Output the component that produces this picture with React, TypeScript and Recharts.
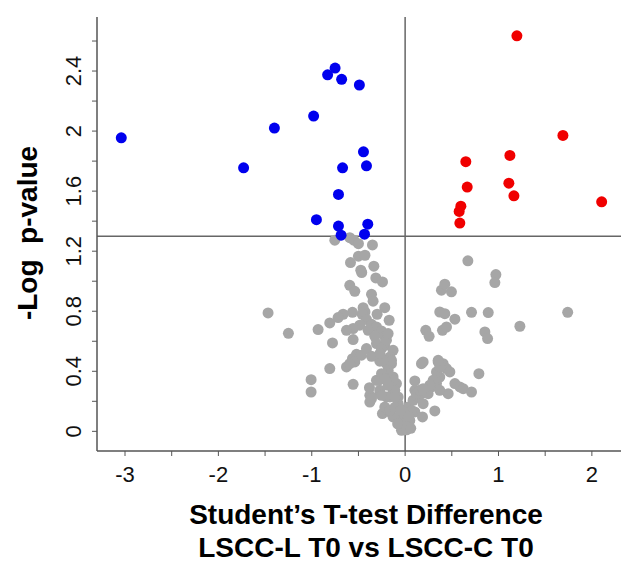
import { ReferenceLine, Scatter, ScatterChart, XAxis, YAxis } from "recharts"

// [difference, -log p]
const downRegulated: [number, number][] = [
  [-3.04, 1.955], [-1.73, 1.755], [-1.4, 2.02], [-0.98, 2.1], [-0.95, 1.41],
  [-0.75, 2.42], [-0.83, 2.375], [-0.68, 2.345], [-0.49, 2.307], [-0.446, 1.862],
  [-0.414, 1.769], [-0.67, 1.755], [-0.714, 1.578], [-0.714, 1.367], [-0.4, 1.38],
  [-0.686, 1.307], [-0.435, 1.313],
]

const upRegulated: [number, number][] = [
  [1.197, 2.635], [1.69, 1.971], [1.122, 1.838], [0.65, 1.796], [0.665, 1.627],
  [1.111, 1.653], [1.165, 1.569], [2.105, 1.529], [0.597, 1.5], [0.579, 1.465],
  [0.586, 1.387],
]

const notSignificant: [number, number][] = [
  [-0.753, 1.273], [-0.593, 1.29], [-0.55, 1.273], [-0.5, 1.25], [-0.35, 1.242],
  [-0.5, 1.167], [-0.43, 1.173], [-0.585, 1.124], [-0.335, 1.1], [-0.475, 1.073],
  [-0.465, 1.058], [-0.314, 1.022], [-0.242, 0.995], [-0.593, 0.973], [-0.539, 0.933],
  [-0.36, 0.913], [-0.343, 0.867], [-0.218, 0.824], [-0.45, 0.824], [-0.43, 0.795],
  [-0.46, 0.78], [-0.564, 0.793], [-0.664, 0.78], [-0.718, 0.758], [-0.807, 0.722],
  [-0.932, 0.678], [-0.3, 0.78], [-0.171, 0.74], [-0.414, 0.745], [-0.36, 0.713],
  [-0.307, 0.695], [-0.486, 0.707], [-0.557, 0.685], [-0.628, 0.673], [-0.396, 0.673],
  [-0.254, 0.669], [-0.218, 0.629], [-0.325, 0.633], [-0.778, 0.589], [-0.557, 0.611],
  [-0.307, 0.585], [-0.218, 0.573], [-0.254, 0.551], [-0.129, 0.54], [-0.164, 0.495],
  [-0.271, 0.467], [-0.146, 0.451], [-0.414, 0.551], [-0.36, 0.5], [-0.521, 0.513],
  [-0.564, 0.484], [-0.539, 0.462], [-0.628, 0.429], [-0.807, 0.418], [-1.007, 0.344],
  [-1.007, 0.262], [-0.557, 0.313], [-0.382, 0.291], [-0.182, 0.407], [-0.129, 0.362],
  [-0.093, 0.318], [-0.164, 0.318], [-0.236, 0.351], [-0.289, 0.34], [-0.378, 0.24],
  [-0.378, 0.195], [-0.271, 0.251], [-0.2, 0.229], [-0.129, 0.262], [-0.075, 0.229],
  [-0.243, 0.118], [-0.164, 0.129], [-0.093, 0.162], [-0.057, 0.096], [-0.021, 0.051],
  [-0.039, 0.007], [0.014, 0.029], [0.05, 0.073], [0.104, 0.129], [0.032, 0.162],
  [0.086, 0.207], [0.139, 0.229], [0.104, 0.273], [0.175, 0.251], [0.193, 0.184],
  [0.186, 0.096], [0.318, 0.136], [0.104, 0.336], [0.229, 0.273], [0.282, 0.296],
  [0.336, 0.318], [0.371, 0.362], [0.336, 0.396], [0.354, 0.462], [0.407, 0.451],
  [0.443, 0.418], [0.479, 0.396], [0.461, 0.251], [0.193, 0.462], [0.175, 0.451],
  [0.533, 0.318], [0.586, 0.296], [0.622, 0.284], [0.711, 0.262], [0.79, 0.384],
  [0.221, 0.673], [0.257, 0.633], [0.4, 0.673], [0.443, 0.695], [0.371, 0.795],
  [0.425, 0.784], [0.533, 0.747], [0.389, 0.94], [0.425, 0.98], [0.496, 0.929],
  [0.672, 1.136], [0.972, 1.044], [0.961, 0.991], [0.711, 0.793], [0.89, 0.791],
  [0.854, 0.662], [0.883, 0.618], [1.229, 0.7], [1.741, 0.793], [-1.468, 0.789],
  [-1.25, 0.653], [-0.218, 0.162], [-0.164, 0.229], [-0.111, 0.273], [-0.129, 0.34],
  [-0.129, 0.096], [-0.164, 0.14], [-0.075, 0.184], [-0.111, 0.229], [-0.271, 0.273],
  [-0.307, 0.34], [-0.36, 0.218], [-0.253, 0.384], [-0.2, 0.451], [-0.146, 0.473],
  [-0.236, 0.473], [-0.271, 0.518], [-0.2, 0.607], [-0.182, 0.651], [-0.468, 0.507],
  [-0.593, 0.451], [-0.253, 0.24], [-0.182, 0.307], [-0.218, 0.351], [0.015, 0.01],
  [0.068, 0.14], [0.122, 0.251], [0.157, 0.273], [0.3, 0.34], [0.371, 0.429],
  [0.354, 0.473], [0.246, 0.251], [0.371, 0.273], [0.264, 0.307], [0.193, 0.284],
  [-0.02, 0.12], [0.0, 0.06], [-0.08, 0.05], [0.06, 0.02], [-0.11, 0.16],
  [0.03, 0.1], [-0.05, 0.14],
]

const xTicks = [-3, -2.5, -2, -1.5, -1, -0.5, 0, 0.5, 1, 1.5, 2]
const yTicks = [0, 0.2, 0.4, 0.6, 0.8, 1, 1.2, 1.4, 1.6, 1.8, 2, 2.2, 2.4, 2.6]

const FONT = "'Liberation Sans', Arial, sans-serif"
const AXIS = "#555"

const toPoints = (arr: [number, number][]) => arr.map(([x, y]) => ({ x, y }))

const dot = (fill: string) => (props: any) =>
  <circle cx={props.cx} cy={props.cy} r={5.5} fill={fill} />

function XTick({ x, y, payload }: any) {
  const v = payload.value as number
  if (!Number.isInteger(v)) return null
  return (
    <text x={x} y={y + 16} textAnchor="middle" dominantBaseline="central"
      fontFamily={FONT} fontSize={22} fill="#111">
      {String(v)}
    </text>
  )
}

function YTick({ x, y, payload }: any) {
  const v = payload.value as number
  if (Math.round(v * 10) % 4 !== 0) return null
  return (
    <text transform={`translate(${x - 17}, ${y}) rotate(-90)`} textAnchor="middle"
      dominantBaseline="central" fontFamily={FONT} fontSize={22} fill="#111">
      {String(Math.round(v * 10) / 10)}
    </text>
  )
}

export default function App() {
  return (
    <div style={{ position: "absolute", left: 0, top: 0, width: 621, height: 562, background: "#fff" }}>
      <ScatterChart width={621} height={562} margin={{ top: 17, right: 0, left: 0, bottom: 0 }}>
        <XAxis
          type="number"
          dataKey="x"
          domain={[-3.3, 2.312]}
          ticks={xTicks}
          interval={0}
          allowDataOverflow
          height={111}
          tickSize={5}
          tick={<XTick />}
          axisLine={{ stroke: AXIS, strokeWidth: 1.5 }}
          tickLine={{ stroke: AXIS }}
        />
        <YAxis
          type="number"
          dataKey="y"
          domain={[-0.131, 2.76]}
          ticks={yTicks}
          interval={0}
          allowDataOverflow
          width={97}
          tickSize={5}
          tick={<YTick />}
          axisLine={{ stroke: AXIS, strokeWidth: 1.5 }}
          tickLine={{ stroke: AXIS }}
        />
        <Scatter data={toPoints(notSignificant)} shape={dot("#a6a6a6")} isAnimationActive={false} />
        <Scatter data={toPoints(downRegulated)} shape={dot("#0000ee")} isAnimationActive={false} />
        <Scatter data={toPoints(upRegulated)} shape={dot("#f00000")} isAnimationActive={false} />
        <ReferenceLine x={0} stroke="#666" strokeWidth={1.5} />
        <ReferenceLine y={1.3} stroke="#666" strokeWidth={1.5} />
      </ScatterChart>
      <svg width={621} height={562} style={{ position: "absolute", left: 0, top: 0, pointerEvents: "none" }}>
        <text transform="translate(37, 233) rotate(-90)" textAnchor="middle"
          fontFamily={FONT} fontWeight="bold" fontSize={28} fill="#000">
          {"-Log\u00a0\u00a0p-value"}
        </text>
        <text x={366} y={524} textAnchor="middle" fontFamily={FONT} fontWeight="bold" fontSize={28} fill="#000">
          Student’s T-test Difference
        </text>
        <text x={366} y={557} textAnchor="middle" fontFamily={FONT} fontWeight="bold" fontSize={28} fill="#000">
          LSCC-L T0 vs LSCC-C T0
        </text>
      </svg>
    </div>
  )
}
